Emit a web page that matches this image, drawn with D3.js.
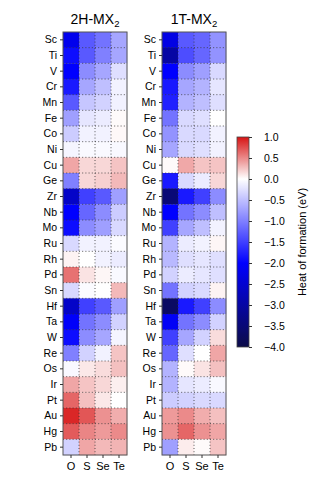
<!DOCTYPE html>
<html>
<head>
<meta charset="utf-8">
<script src="https://cdn.jsdelivr.net/npm/d3@7"></script>
<style>
html,body{margin:0;padding:0;background:#fff;}
svg{display:block;font-family:"Liberation Sans",Arial,Helvetica,sans-serif;}
</style>
</head>
<body>
<svg id="c" width="325" height="488"></svg>
<script>
const metals = ["Sc","Ti","V","Cr","Mn","Fe","Co","Ni","Cu","Ge","Zr","Nb","Mo","Ru","Rh","Pd","Sn","Hf","Ta","W","Re","Os","Ir","Pt","Au","Hg","Pb"];
const chalcogens = ["O","S","Se","Te"];
const titles = ["2H-MX", "1T-MX"];
const colorTicks = [1.0,0.5,0.0,-0.5,-1.0,-1.5,-2.0,-2.5,-3.0,-3.5,-4.0];

// Heat of formation (eV), rows follow metals, columns O,S,Se,Te
const values2H = [
  [-2.2,-1.3,-1.1,-0.7],
  [-1.9,-1.3,-1.0,-0.7],
  [-2.0,-0.9,-0.7,-0.25],
  [-1.8,-0.7,-0.5,-0.1],
  [-1.3,-0.45,-0.35,-0.1],
  [-0.75,-0.2,-0.15,0.02],
  [-0.4,-0.1,-0.1,0.03],
  [-0.08,-0.05,-0.05,-0.05],
  [0.38,0.17,0.17,0.25],
  [-1.0,0.17,0.2,0.3],
  [-2.6,-1.5,-1.3,-0.75],
  [-2.0,-1.2,-0.9,-0.4],
  [-1.9,-0.9,-0.75,-0.3],
  [-0.3,-0.1,-0.1,-0.03],
  [0.05,0.0,-0.1,-0.15],
  [0.6,0.12,0.04,-0.05],
  [-0.3,-0.03,0.0,0.3],
  [-2.6,-1.5,-1.3,-0.75],
  [-2.05,-1.1,-0.9,-0.35],
  [-1.9,-0.9,-0.7,-0.08],
  [-1.0,-0.35,-0.1,0.25],
  [-0.05,0.1,0.15,0.27],
  [0.38,0.25,0.17,0.07],
  [0.65,0.27,0.1,0.0],
  [0.92,0.72,0.47,0.35],
  [0.7,0.52,0.43,0.5],
  [-0.35,0.38,0.3,0.32]
];
const values1T = [
  [-2.3,-1.3,-1.2,-0.85],
  [-3.0,-1.4,-1.2,-0.85],
  [-2.0,-0.9,-0.75,-0.3],
  [-1.8,-0.7,-0.6,-0.2],
  [-1.75,-0.6,-0.5,-0.25],
  [-1.1,-0.3,-0.25,0.0],
  [-0.85,-0.3,-0.3,-0.1],
  [-0.7,-0.3,-0.25,-0.1],
  [0.02,0.37,0.25,0.25],
  [-1.8,-0.3,-0.15,0.17],
  [-3.5,-1.8,-1.5,-0.9],
  [-2.0,-1.1,-0.9,-0.5],
  [-1.5,-0.7,-0.5,-0.1],
  [-0.6,-0.15,-0.1,0.04],
  [-0.55,-0.25,-0.2,-0.25],
  [-0.35,-0.15,-0.2,-0.25],
  [-1.1,-0.35,-0.3,0.05],
  [-3.7,-1.8,-1.5,-0.9],
  [-2.1,-1.1,-0.9,-0.35],
  [-1.5,-0.7,-0.35,0.15],
  [-1.2,-0.25,0.0,0.38],
  [-0.6,0.02,0.12,0.27],
  [-0.6,-0.2,-0.15,-0.05],
  [-0.4,-0.35,-0.3,-0.3],
  [0.43,0.5,0.35,0.27],
  [0.47,0.65,0.47,0.38],
  [-0.75,0.08,0.02,0.25]
];

const color = d3.scaleLinear()
  .domain([-4,-2,0,1])
  .range(["rgb(12,12,72)","rgb(0,0,255)","rgb(255,255,255)","rgb(215,20,20)"])
  .interpolate(d3.interpolateRgb)
  .clamp(true);

const svg = d3.select("#c");
const yTop = 32, yBot = 455;
const panels = [
  {x0:63, x1:127, data:values2H, title:titles[0]},
  {x0:162, x1:226, data:values1T, title:titles[1]}
];
const y = d3.scaleBand().domain(metals).range([yTop,yBot]);

panels.forEach(p => {
  const x = d3.scaleBand().domain(chalcogens).range([p.x0,p.x1]);
  const g = svg.append("g");
  const cells = [];
  p.data.forEach((row,i)=>row.forEach((v,j)=>cells.push({m:metals[i],c:chalcogens[j],v})));
  g.selectAll("rect.cell").data(cells).join("rect")
    .attr("class","cell")
    .attr("x",d=>x(d.c)).attr("y",d=>y(d.m))
    .attr("width",x.bandwidth()+0.3).attr("height",y.bandwidth()+0.3)
    .attr("fill",d=>color(d.v));
  metals.slice(1).forEach(m=>{
    g.append("line").attr("x1",p.x0).attr("x2",p.x1).attr("y1",y(m)).attr("y2",y(m))
      .attr("stroke","#333").attr("stroke-width",0.8).attr("stroke-dasharray","1,2.2");
  });
  chalcogens.slice(1).forEach(c=>{
    g.append("line").attr("y1",yTop).attr("y2",yBot).attr("x1",x(c)).attr("x2",x(c))
      .attr("stroke","#333").attr("stroke-width",0.8).attr("stroke-dasharray","1,2.2");
  });
  g.append("rect").attr("x",p.x0).attr("y",yTop).attr("width",p.x1-p.x0).attr("height",yBot-yTop)
    .attr("fill","none").attr("stroke","#555").attr("stroke-width",1);
  const ay = d3.axisLeft(y).tickSize(3).tickPadding(3);
  const gy = svg.append("g").attr("transform",`translate(${p.x0},0)`).call(ay);
  gy.select(".domain").remove();
  gy.selectAll("text").attr("font-size",10.5).attr("fill","#000").attr("font-family","'Liberation Sans',Arial,sans-serif");
  gy.selectAll("line").attr("stroke","#333");
  const ax = d3.axisBottom(x).tickSize(3).tickPadding(4);
  const gx = svg.append("g").attr("transform",`translate(0,${yBot})`).call(ax);
  gx.select(".domain").remove();
  gx.selectAll("text").attr("font-size",11).attr("fill","#000").attr("font-family","'Liberation Sans',Arial,sans-serif");
  gx.selectAll("line").attr("stroke","#333");
  const t = svg.append("text").attr("x",(p.x0+p.x1)/2).attr("y",24).attr("text-anchor","middle")
    .attr("font-size",14).attr("fill","#000");
  t.append("tspan").text(p.title);
  t.append("tspan").text("2").attr("font-size",9.5).attr("dy",3);
});

const cbX = 237, cbW = 12, cbTop = 137, cbBot = 347;
const cy = d3.scaleLinear().domain([1,-4]).range([cbTop,cbBot]);
const defs = svg.append("defs");
const grad = defs.append("linearGradient").attr("id","cbg").attr("x1",0).attr("x2",0).attr("y1",0).attr("y2",1);
d3.range(0,51).forEach(i=>{
  const v = 1 - i*5/50;
  grad.append("stop").attr("offset",(i/50*100)+"%").attr("stop-color",color(v));
});
svg.append("rect").attr("x",cbX).attr("y",cbTop).attr("width",cbW).attr("height",cbBot-cbTop)
  .attr("fill","url(#cbg)").attr("stroke","#444").attr("stroke-width",0.8);
const ac = d3.axisRight(cy).tickValues(colorTicks).tickSize(3).tickPadding(12)
  .tickFormat(d=>d3.format(".1f")(d).replace("-","\u2212"));
const gc = svg.append("g").attr("transform",`translate(${cbX+cbW},0)`).call(ac);
gc.select(".domain").remove();
gc.selectAll("text").attr("font-size",10.5).attr("fill","#000").attr("font-family","'Liberation Sans',Arial,sans-serif");
gc.selectAll("line").attr("stroke","#333");
svg.append("text").attr("transform",`translate(306,${(cbTop+cbBot)/2}) rotate(-90)`)
  .attr("text-anchor","middle").attr("font-size",11).attr("fill","#000")
  .text("Heat of formation (eV)");
</script>
</body>
</html>
